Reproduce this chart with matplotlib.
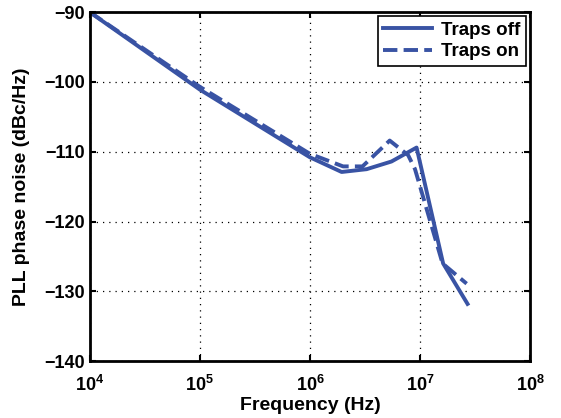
import matplotlib.pyplot as plt
from matplotlib.ticker import FixedLocator, NullLocator

plt.rcParams['font.family'] = ['Liberation Sans', 'DejaVu Sans']
plt.rcParams['font.weight'] = 'bold'

# Traps off (solid)
freq_off = [1e4, 1e5, 1e6, 1.94e6, 3.27e6, 5.5e6, 9.3e6, 1.62e7, 2.7e7]
noise_off = [-90, -101.1, -110.8, -112.9, -112.5, -111.4, -109.4, -126.0, -131.8]

# Traps on (dashed)
freq_on = [1e4, 1e5, 1e6, 2.0e6, 3.0e6, 5.3e6, 7.8e6, 9.0e6, 1.6e7, 2.65e7]
noise_on = [-90, -100.7, -110.3, -112.1, -112.1, -108.4, -110.5, -112.5, -126.0, -128.9]

color = '#3953a4'

fig = plt.figure(figsize=(5.61, 4.18), dpi=100)
ax = fig.add_axes([0.160, 0.136, 0.785, 0.835])

ax.plot(freq_off, noise_off, '-', color=color, lw=2.8, label='Traps off')
ax.plot(freq_on, noise_on, '--', color=color, lw=2.8, label='Traps on')

ax.set_xscale('log')
ax.set_xlim(1e4, 1e8)
ax.set_ylim(-140, -90)
ax.xaxis.set_major_locator(FixedLocator([1e4, 1e5, 1e6, 1e7, 1e8]))
ax.xaxis.set_minor_locator(NullLocator())
ax.set_yticks([-140, -130, -120, -110, -100, -90])
ax.set_yticklabels(['\u2212140', '\u2212130', '\u2212120', '\u2212110', '\u2212100', '\u221290'])

ax.grid(True, linestyle=(0, (1, 4)), color='black', lw=0.9)
ax.tick_params(direction='in', top=True, right=True, labelsize=13, width=1.5, length=4)
ax.tick_params(axis='x', pad=10)
for s in ax.spines.values():
    s.set_linewidth(2)

ax.set_xlabel('Frequency (Hz)', fontsize=14, fontweight='bold', labelpad=1)
ax.set_ylabel('PLL phase noise (dBc/Hz)', fontsize=14, fontweight='bold', labelpad=10)

leg = ax.legend(loc='upper right', fontsize=13.5, fancybox=False, framealpha=1,
                edgecolor='black', handlelength=2.6, borderaxespad=0.2,
                borderpad=0.3, labelspacing=0.25, handletextpad=0.5)
leg.get_frame().set_linewidth(1.2)

fig.savefig('out.png', dpi=100)
